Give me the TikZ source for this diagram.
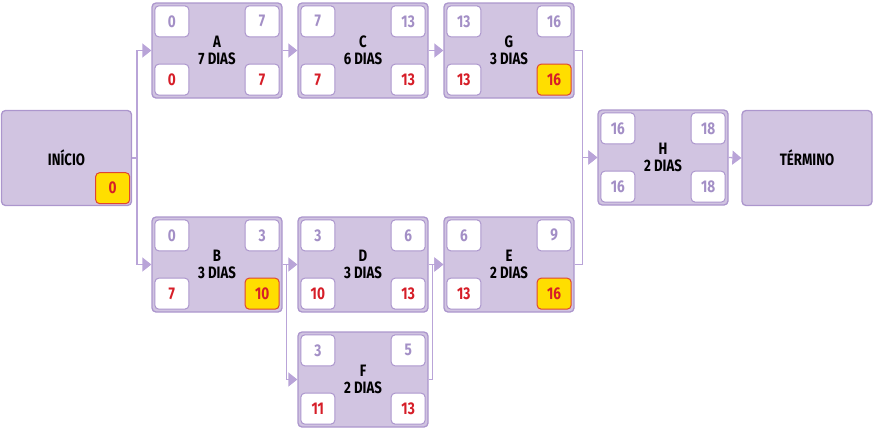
\documentclass[tikz,border=0pt]{standalone}
\usepackage{fontspec}
\setmainfont{Fira Sans}[FakeStretch=0.8]
\usetikzlibrary{arrows.meta}
\definecolor{boxfill}{RGB}{209,196,225}
\definecolor{boxline}{RGB}{172,150,205}
\definecolor{connline}{RGB}{185,164,216}
\definecolor{toppurple}{RGB}{163,143,198}
\definecolor{critred}{RGB}{214,30,40}
\definecolor{crityellow}{RGB}{255,222,0}
\definecolor{critborder}{RGB}{222,70,50}
\tikzset{
  taskbox/.style={draw=boxline, fill=boxfill, line width=1.3pt, rounded corners=4pt,
    minimum width=130pt, minimum height=95pt, inner sep=0pt, align=center,
    font=\bfseries\fontsize{16.5}{17}\selectfont, text=black},
  numbox/.style={draw=boxline, fill=white, line width=1pt, rounded corners=4pt,
    minimum width=34pt, minimum height=31pt, inner sep=0pt,
    font=\bfseries\fontsize{17}{17}\selectfont},
  esbox/.style={numbox, text=toppurple},
  efbox/.style={numbox, text=toppurple},
  lsbox/.style={numbox, text=critred},
  lfbox/.style={numbox, text=critred},
  crit/.style={fill=crityellow, draw=critborder},
  conn/.style={draw=connline, line width=1.3pt},
  arr/.style={conn, -{Triangle[length=9pt,width=14pt]}},
}
\newcommand\tasknode[9][]{%
  \begin{scope}[#1]
  \node[taskbox] (#2) at (#3+65,#4+47.5) {#5};
  \node[esbox, anchor=north west] (#2es) at ([shift={(3,3)}]#2.north west) {#6};
  \node[efbox, anchor=north east] (#2ef) at ([shift={(-3,3)}]#2.north east) {#7};
  \node[lsbox, anchor=south west] (#2ls) at ([shift={(3,-3)}]#2.south west) {#8};
  \node[lfbox, anchor=south east] (#2lf) at ([shift={(-3,-3)}]#2.south east) {#9};
  \end{scope}}
\begin{document}
\begin{tikzpicture}[x=1pt,y=-1pt]
\useasboundingbox (0,0) rectangle (875,432);
% start and end
\node[taskbox] (ini) at (66.5,158) {INÍCIO};
\node[numbox, crit, text=critred, anchor=south east] (inif) at ([shift={(-2,-2)}]ini.south east) {0};
\node[taskbox] (fim) at (807,158) {TÉRMINO};
% tasks
\tasknode{A}{152}{3}{A\\7 DIAS}{0}{7}{0}{7}
\tasknode{C}{298}{3}{C\\6 DIAS}{7}{13}{7}{13}
\tasknode[lfbox/.append style=crit]{G}{444}{3}{G\\3 DIAS}{13}{16}{13}{16}
\tasknode[lfbox/.append style=crit]{B}{152}{217}{B\\3 DIAS}{0}{3}{7}{10}
\tasknode{D}{298}{217}{D\\3 DIAS}{3}{6}{10}{13}
\tasknode[lfbox/.append style=crit]{E}{444}{217}{E\\2 DIAS}{6}{9}{13}{16}
\tasknode{F}{298}{332}{F\\2 DIAS}{3}{5}{11}{13}
\tasknode[lsbox/.append style={text=toppurple}, lfbox/.append style={text=toppurple}]{H}{598}{110}{H\\2 DIAS}{16}{18}{16}{18}
% connectors
\coordinate (jx) at (137,158);
\draw[conn] (ini.east) -- (jx);
\draw[arr] (jx) |- (A.west);
\draw[arr] (jx) |- (B.west);
\draw[arr] (A.east) -- (C.west);
\draw[arr] (C.east) -- (G.west);
\draw[arr] (B.east) -- (D.west);
\draw[arr] (B.east) -- ++(4,0) |- (F.west);
\draw[arr] (D.east) -- (E.west);
\draw[arr] (F.east) -- ++(4,0) |- (E.west);
\draw[arr] (G.east) -- ++(8,0) |- (H.west);
\draw[arr] (E.east) -- ++(8,0) |- (H.west);
\draw[arr] (H.east) -- (fim.west);
\end{tikzpicture}
\end{document}
